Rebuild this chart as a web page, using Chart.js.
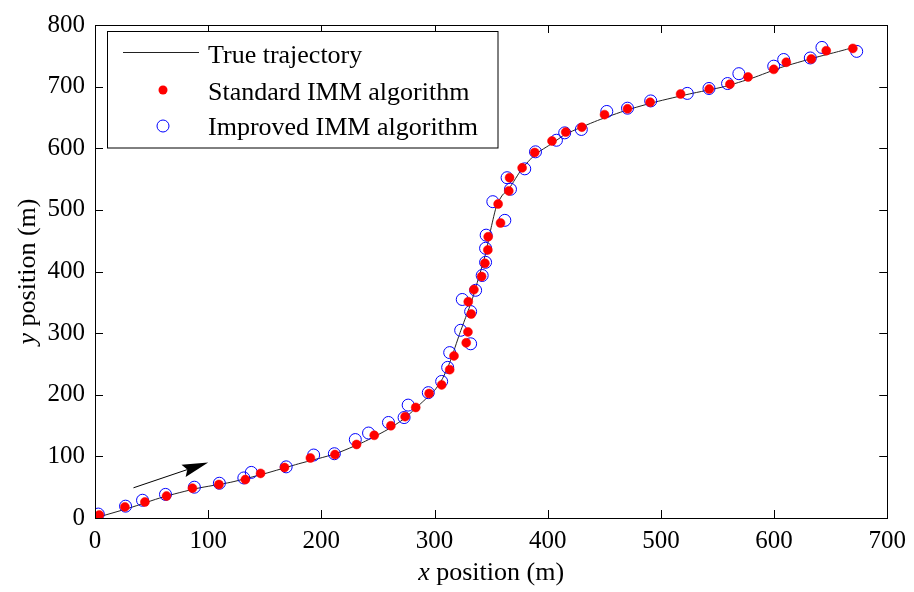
<!DOCTYPE html>
<html>
<head>
<meta charset="utf-8">
<script src="https://cdn.jsdelivr.net/npm/chart.js@4"></script>
<style>
  body { margin: 0; background: #fff; }
  #wrap { width: 914px; height: 592px; }
</style>
</head>
<body>
<div id="wrap"><canvas id="traj" width="914" height="592"></canvas></div>
<script>
const trueX = [0, 30, 60, 90, 120, 150, 180, 212, 237, 258, 273, 288, 300, 307, 314, 322, 328, 333, 339, 345, 350, 355, 360, 366, 377, 389, 404, 416, 444, 470, 495, 525, 556, 581, 606, 636, 657, 671];
const trueY = [0, 16, 34, 48, 58, 72, 88, 104, 123, 143, 161, 186, 207, 226, 255, 298, 328, 353, 390, 428, 471, 508, 524, 535, 566, 590, 608, 623, 645, 662, 675, 688, 700, 714, 731, 747, 757, 764];

const standardX = [3.8, 26.4, 44.1, 63.2, 86.1, 109.5, 132.8, 146.3, 167.4, 190.3, 212, 231.1, 246.7, 261.4, 274, 283.4, 295.2, 306.3, 313.4, 317.2, 328, 329.5, 332.4, 329.8, 334.8, 341.6, 344.5, 347.1, 347.4, 358.3, 356.2, 365.6, 366.3, 377.4, 388.5, 403.8, 415.9, 430.2, 450.2, 470.5, 490.5, 517.4, 542.7, 561, 577, 599.7, 610.8, 632.9, 646.1, 669.6];
const standardY = [4.8, 18, 26, 35.6, 48.4, 54.3, 62.3, 72.4, 82, 97.4, 102.9, 119.3, 134.2, 149.7, 164.5, 179.4, 202, 216, 240.7, 263, 284.3, 302, 331, 351, 370.6, 391.9, 413.3, 435, 456.4, 478.7, 509.6, 530.8, 552.2, 568.2, 593.1, 611.8, 626.2, 634.2, 654.5, 664, 674.6, 688, 696, 704, 715.7, 728, 739.6, 744.9, 758.3, 762];

const improvedX = [2.9, 27, 42, 62.3, 87.8, 109.9, 131.5, 138.1, 168.9, 193.2, 211.5, 230, 241.7, 259.3, 273.1, 276.7, 294.5, 306.3, 311.6, 313.4, 331.9, 323.1, 331.9, 324.5, 336.3, 342.1, 345.1, 345.1, 345.6, 362.1, 351.5, 367.1, 364.1, 379.7, 389.2, 407.7, 415, 429.7, 452.2, 470.5, 491, 523.3, 542.5, 558.9, 568.9, 599.7, 608.5, 632, 642.3, 673];
const improvedY = [6.4, 19.2, 28.8, 38.3, 50, 56.4, 65, 74, 83, 102.2, 104.3, 127.3, 137.9, 155, 163, 183.2, 203.4, 221.6, 244.4, 268.4, 282.7, 304.6, 335, 354.6, 369.5, 393.5, 414.9, 437.7, 459, 483, 513.3, 533.5, 552.2, 566.6, 594.2, 613, 625, 630.5, 659.7, 665, 676.8, 689, 697, 705, 721, 733.2, 744, 746.5, 763.6, 757.2];

const xTicks = [0, 100, 200, 300, 400, 500, 600, 700];
const yTicks = [0, 100, 200, 300, 400, 500, 600, 700, 800];

const seriesNames = ["True trajectory", "Standard IMM algorithm", "Improved IMM algorithm"];
const arrowFrom = [34, 49];
const arrowTo = [100, 90];

const serif = '"Liberation Serif", "Times New Roman", serif';

function pairs(xs, ys) {
  return xs.map((x, i) => ({ x: x, y: ys[i] }));
}

// box with inward ticks on all four sides, like the original figure
const frame = {
  id: "frame",
  afterDraw(chart) {
    const { ctx, chartArea: a, scales } = chart;
    ctx.save();
    ctx.strokeStyle = "#000";
    ctx.lineWidth = 1;
    ctx.strokeRect(Math.round(a.left) + 0.5, Math.round(a.top) + 0.5,
      Math.round(a.right - a.left), Math.round(a.bottom - a.top));
    ctx.beginPath();
    xTicks.forEach(v => {
      const px = Math.round(scales.x.getPixelForValue(v)) + 0.5;
      ctx.moveTo(px, a.bottom); ctx.lineTo(px, a.bottom - 8);
      ctx.moveTo(px, a.top); ctx.lineTo(px, a.top + 8);
    });
    yTicks.forEach(v => {
      const py = Math.round(scales.y.getPixelForValue(v)) + 0.5;
      ctx.moveTo(a.left, py); ctx.lineTo(a.left + 8, py);
      ctx.moveTo(a.right, py); ctx.lineTo(a.right - 8, py);
    });
    ctx.stroke();
    ctx.restore();
  }
};

const arrow = {
  id: "arrow",
  afterDatasetsDraw(chart) {
    const { ctx, scales } = chart;
    const x0 = scales.x.getPixelForValue(arrowFrom[0]);
    const y0 = scales.y.getPixelForValue(arrowFrom[1]);
    const x1 = scales.x.getPixelForValue(arrowTo[0]);
    const y1 = scales.y.getPixelForValue(arrowTo[1]);
    const ang = Math.atan2(y1 - y0, x1 - x0);
    const len = 26, half = 6.5, notch = 22;
    ctx.save();
    ctx.strokeStyle = "#000";
    ctx.fillStyle = "#000";
    ctx.lineWidth = 1;
    ctx.beginPath();
    ctx.moveTo(x0, y0);
    ctx.lineTo(x1 - notch * Math.cos(ang), y1 - notch * Math.sin(ang));
    ctx.stroke();
    ctx.translate(x1, y1);
    ctx.rotate(ang);
    ctx.beginPath();
    ctx.moveTo(0, 0);
    ctx.lineTo(-len, -half);
    ctx.lineTo(-notch, 0);
    ctx.lineTo(-len, half);
    ctx.closePath();
    ctx.fill();
    ctx.restore();
  }
};

const labels = {
  id: "labels",
  afterDraw(chart) {
    const { ctx, chartArea: a } = chart;
    ctx.save();
    ctx.fillStyle = "#000";
    ctx.textBaseline = "alphabetic";

    // x axis title
    const it = "italic 26px " + serif, rm = "26px " + serif;
    ctx.font = it;
    const wx = ctx.measureText("x").width;
    ctx.font = rm;
    const wr = ctx.measureText(" position (m)").width;
    let sx = (a.left + a.right) / 2 - (wx + wr) / 2;
    ctx.textAlign = "left";
    ctx.font = it; ctx.fillText("x", sx, 580);
    ctx.font = rm; ctx.fillText(" position (m)", sx + wx, 580);

    // y axis title
    ctx.translate(35, (a.top + a.bottom) / 2);
    ctx.rotate(-Math.PI / 2);
    ctx.font = it;
    const wy = ctx.measureText("y").width;
    ctx.font = rm;
    const wr2 = ctx.measureText(" position (m)").width;
    sx = -(wy + wr2) / 2;
    ctx.font = it; ctx.fillText("y", sx, 0);
    ctx.font = rm; ctx.fillText(" position (m)", sx + wy, 0);
    ctx.restore();

    // legend
    ctx.save();
    ctx.strokeStyle = "#000";
    ctx.lineWidth = 1;
    ctx.fillStyle = "#fff";
    ctx.fillRect(107.5, 31.5, 390.5, 116.5);
    ctx.strokeRect(107.5, 31.5, 390.5, 116.5);
    ctx.beginPath();
    ctx.moveTo(123, 52.5); ctx.lineTo(199, 52.5);
    ctx.strokeStyle = "#222";
    ctx.stroke();
    ctx.fillStyle = "#ff0000";
    ctx.beginPath(); ctx.arc(163, 90, 4.5, 0, Math.PI * 2); ctx.fill();
    ctx.strokeStyle = "#0000ff";
    ctx.beginPath(); ctx.arc(163, 126, 6, 0, Math.PI * 2); ctx.stroke();
    ctx.fillStyle = "#000";
    ctx.font = "26px " + serif;
    ctx.textAlign = "left";
    ctx.fillText(seriesNames[0], 208, 63);
    ctx.fillText(seriesNames[1], 208, 100);
    ctx.fillText(seriesNames[2], 208, 135);
    ctx.restore();
  }
};

new Chart(document.getElementById("traj"), {
  type: "scatter",
  data: {
    datasets: [
      {
        label: seriesNames[0],
        data: pairs(trueX, trueY),
        showLine: true,
        borderColor: "#222",
        borderWidth: 1,
        pointRadius: 0,
        tension: 0.2,
        order: 3,
      },
      {
        label: seriesNames[1],
        data: pairs(standardX, standardY),
        pointRadius: 4.5,
        pointBackgroundColor: "#ff0000",
        pointBorderColor: "#ff0000",
        pointBorderWidth: 0.5,
        order: 1,
      },
      {
        label: seriesNames[2],
        data: pairs(improvedX, improvedY),
        pointRadius: 6,
        pointBackgroundColor: "rgba(0,0,0,0)",
        pointBorderColor: "#0000ff",
        pointBorderWidth: 1,
        order: 2,
      },
    ],
  },
  options: {
    responsive: false,
    animation: false,
    layout: { padding: { left: 0, right: 24, top: 17, bottom: 0 } },
    plugins: {
      legend: { display: false },
      tooltip: { enabled: false },
    },
    scales: {
      x: {
        type: "linear",
        min: 0,
        max: 700,
        afterBuildTicks: s => { s.ticks = xTicks.map(v => ({ value: v })); },
        afterFit: s => { s.height = 74; },
        grid: { display: false, drawTicks: false },
        border: { display: false },
        ticks: { color: "#000", padding: 8, maxRotation: 0, font: { family: serif, size: 25 } },
      },
      y: {
        type: "linear",
        min: 0,
        max: 800,
        afterBuildTicks: s => { s.ticks = yTicks.map(v => ({ value: v })); },
        afterFit: s => { s.width = 95; },
        grid: { display: false, drawTicks: false },
        border: { display: false },
        ticks: { color: "#000", padding: 10, font: { family: serif, size: 25 } },
      },
    },
  },
  plugins: [frame, arrow, labels],
});
</script>
</body>
</html>
